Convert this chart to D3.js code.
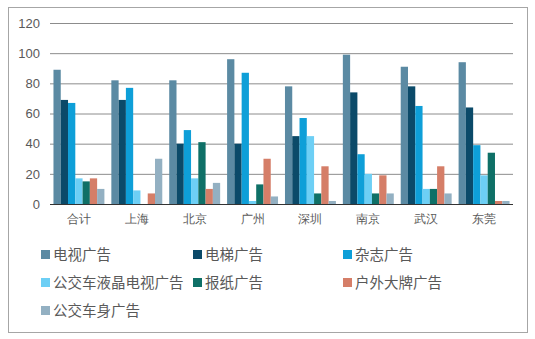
<!DOCTYPE html>
<html><head><meta charset="utf-8">
<script src="https://cdn.jsdelivr.net/npm/d3@7"></script>
<style>body{margin:0;background:#fff}svg{display:block;font-family:"Noto Sans CJK SC","Liberation Sans",sans-serif}</style>
</head><body><svg id="c" width="535" height="339"></svg>
<script>
const categories = ["合计","上海","北京","广州","深圳","南京","武汉","东莞"];
const seriesNames = ["电视广告","电梯广告","杂志广告","公交车液晶电视广告","报纸广告","户外大牌广告","公交车身广告"];
const tvAd = [89,82,82,96,78,99,91,94];
const elevatorAd = [69,69,40,40,45,74,78,64];
const magazineAd = [67,77,49,87,57,33,65,39];
const busLcdAd = [17,9,17,2,45,20,10,19];
const newspaperAd = [15,0,41,13,7,7,10,34];
const outdoorAd = [17,7,10,30,25,19,25,2];
const busBodyAd = [10,30,14,5,2,7,7,2];
const yTicks = [0,20,40,60,80,100,120];
const colors = ["#5b8aa3","#0b4a69","#0e9fd8","#6dcff5","#0f7067","#d57e68","#93b0c2"];
const seriesValues = [tvAd,elevatorAd,magazineAd,busLcdAd,newspaperAd,outdoorAd,busBodyAd];

const svg = d3.select("#c");
svg.append("rect").attr("x",8.5).attr("y",7.5).attr("width",519).attr("height",325)
  .attr("fill","none").attr("stroke","#a6a6a6");

const x = d3.scaleBand().domain(categories).range([50,513]).paddingInner(0.12).paddingOuter(0.06);
const y = d3.scaleLinear().domain([0,120]).range([204,23]);
const xs = d3.scaleBand().domain(seriesNames).range([0,x.bandwidth()]).padding(0);

const gy = svg.append("g").attr("transform","translate(50,0)")
  .call(d3.axisLeft(y).tickValues(yTicks).tickSize(-463).tickPadding(10));
gy.select(".domain").remove();
gy.selectAll(".tick line").attr("stroke","#8c8c8c").attr("stroke-width",1);
gy.selectAll(".tick text").attr("fill","#595959").attr("font-size",13).attr("font-family","Liberation Sans, Arial, sans-serif");

const groups = svg.append("g").selectAll("g").data(categories).join("g")
  .attr("transform",d=>`translate(${x(d)},0)`);
groups.selectAll("rect").data((c,i)=>seriesNames.map((s,j)=>({s,j,v:seriesValues[j][i]}))).join("rect")
  .attr("x",d=>xs(d.s)).attr("width",xs.bandwidth())
  .attr("y",d=>y(d.v)).attr("height",d=>y(0)-y(d.v))
  .attr("fill",d=>colors[d.j]);

svg.append("line").attr("x1",50).attr("x2",513).attr("y1",y(0)+0.5).attr("y2",y(0)+0.5).attr("stroke","#333");

const gx = svg.append("g").attr("transform",`translate(0,${y(0)})`)
  .call(d3.axisBottom(x).tickSize(0).tickPadding(10));
gx.select(".domain").remove();
gx.selectAll(".tick text").attr("fill","#595959").attr("font-size",12);

const legX = [41,193,343], legY = [255,283,311];
const leg = svg.append("g").selectAll("g").data(seriesNames).join("g")
  .attr("transform",(d,i)=>`translate(${legX[i%3]},${legY[Math.floor(i/3)]})`);
leg.append("rect").attr("x",0).attr("y",-5).attr("width",9).attr("height",9).attr("fill",(d,i)=>colors[i]);
leg.append("text").attr("x",12).attr("y",0).attr("dy","0.36em").attr("font-size",14.5).attr("fill","#595959").text(d=>d);
</script></body></html>
